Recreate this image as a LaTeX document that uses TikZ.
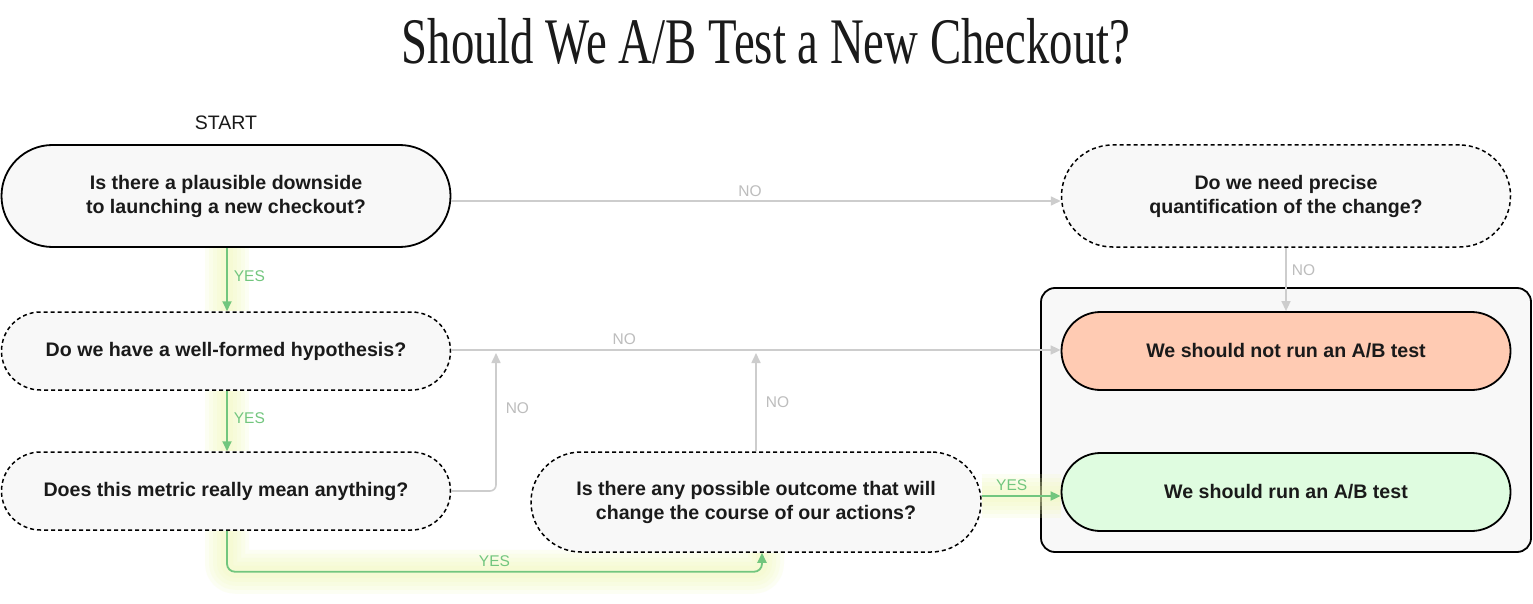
\documentclass[tikz,border=0pt]{standalone}
\usepackage{fontspec}
\usetikzlibrary{arrows.meta}
\newfontfamily\titlefont[FakeStretch=0.72]{Liberation Serif}
\newfontfamily\sansfont{Liberation Sans}
\definecolor{nodefill}{HTML}{F8F8F8}
\definecolor{noline}{HTML}{CDCDCD}
\definecolor{nolabel}{HTML}{BDBDBD}
\definecolor{yesline}{HTML}{72C67E}
\definecolor{glowc}{HTML}{F2FAB8}
\definecolor{redfill}{HTML}{FFCBB3}
\definecolor{greenfill}{HTML}{DFFCE0}
\definecolor{ink}{HTML}{1A1A1A}
\pgfdeclarelayer{bglayer}
\pgfdeclarelayer{glowlayer}
\pgfsetlayers{bglayer,glowlayer,main}
\begin{document}
\begin{tikzpicture}[x=1pt,y=-1pt,
  pill/.style={rectangle, inner sep=0pt, align=center, minimum width=449pt, fill=nodefill, text=ink,
    font=\sansfont\bfseries\fontsize{19.6}{24}\selectfont},
  solidb/.style={draw=black, line width=1.8pt},
  dashb/.style={draw=black, line width=1.5pt, dash pattern=on 4pt off 3pt},
  noarrow/.style={draw=noline, line width=1.6pt, -{Triangle[length=10pt,width=9pt]}},
  yesarrow/.style={draw=yesline, line width=1.8pt, -{Triangle[length=10pt,width=9pt]}},
  nolab/.style={text=nolabel, inner sep=1pt, font=\sansfont\fontsize{15.5}{17}\selectfont},
  yeslab/.style={text=yesline, inner sep=1pt, font=\sansfont\fontsize{15.5}{17}\selectfont},
  glowline/.style={draw=glowc, line width=#1, opacity=0.16, line join=round},
]
\begin{pgfonlayer}{bglayer}
\fill[white] (0,0) rectangle (1533,604);
\end{pgfonlayer}
\useasboundingbox (0,0) rectangle (1533,604);

\node[text=ink, font=\titlefont\fontsize{65}{70}\selectfont] (title) at (766,41) {Should We A/B Test a New Checkout?};
\node[text=ink, font=\sansfont\fontsize{19.5}{20}\selectfont] (start) at (226,123) {START};

\node[pill, solidb, minimum height=102pt, rounded corners=51pt] (q1) at (226,196) {Is there a plausible downside\\to launching a new checkout?};
\node[pill, dashb, minimum height=78pt, rounded corners=39pt] (q2) at (226,351) {Do we have a well-formed hypothesis?};
\node[pill, dashb, minimum height=78pt, rounded corners=39pt] (q3) at (226,491) {Does this metric really mean anything?};
\node[pill, dashb, minimum width=450pt, minimum height=100pt, rounded corners=50pt] (q4) at (756,502) {Is there any possible outcome that will\\change the course of our actions?};
\node[pill, dashb, minimum height=102pt, rounded corners=51pt] (q5) at (1286,196) {Do we need precise\\quantification of the change?};

\begin{pgfonlayer}{bglayer}
\node[draw=black, line width=1.8pt, rounded corners=14pt, fill=nodefill, minimum width=490pt, minimum height=264pt, inner sep=0pt] (box) at (1286,420) {};
\end{pgfonlayer}

\node[pill, solidb, fill=redfill, minimum height=78pt, rounded corners=39pt] (notrun) at (1286,351) {We should not run an A/B test};
\node[pill, solidb, fill=greenfill, minimum height=78pt, rounded corners=39pt] (run) at (1286,492) {We should run an A/B test};

\coordinate (m1) at (496,351);
\coordinate (m2) at (756,351);

% soft glows
\begin{pgfonlayer}{glowlayer}
\foreach \w in {44,36,28,20,12}{
  \draw[glowline=\w pt] ([xshift=1pt]q1.south) -- ([xshift=1pt]q2.north);
  \draw[glowline=\w pt] ([xshift=1pt]q2.south) -- ([xshift=1pt]q3.north);
  \draw[glowline=\w pt, rounded corners=8pt] ([xshift=1pt]q3.south) -- ++(0,41) -| ([xshift=6pt]q4.south);
  \draw[glowline=\w pt] ([yshift=6pt]q4.east) -- ([yshift=-4pt]run.west);
}
\end{pgfonlayer}

% NO connectors
\draw[noarrow] ([yshift=-5pt]q1.east) -- node[nolab, above=3pt, pos=0.49]{NO} ([yshift=-5pt]q5.west);
\draw[noarrow] (q5.south) -- node[nolab, right=4pt, pos=0.35]{NO} (notrun.north);
\draw[noarrow] ([yshift=1pt]q2.east) -- node[nolab, above=4pt, pos=0.284]{NO} ([yshift=1pt]notrun.west);
\draw[noarrow, rounded corners=6pt] (q3.east) -| node[nolab, right=8pt, pos=0.8]{NO} ([yshift=-2pt]m1);
\draw[noarrow] (q4.north) -- node[nolab, right=8pt, pos=0.5]{NO} ([yshift=-2pt]m2);

% YES connectors
\draw[yesarrow] ([xshift=1pt]q1.south) -- node[yeslab, right=5pt, pos=0.45]{YES} ([xshift=1pt]q2.north);
\draw[yesarrow] ([xshift=1pt]q2.south) -- node[yeslab, right=5pt, pos=0.45]{YES} ([xshift=1pt]q3.north);
\draw[yesarrow, rounded corners=8pt] ([xshift=1pt]q3.south) -- ++(0,41) -| node[yeslab, above=3pt, pos=0.25]{YES} ([xshift=6pt]q4.south);
\draw[yesarrow] ([yshift=6pt]q4.east) -- node[yeslab, above=3pt, pos=0.38]{YES} ([yshift=-4pt]run.west);
\end{tikzpicture}
\end{document}
